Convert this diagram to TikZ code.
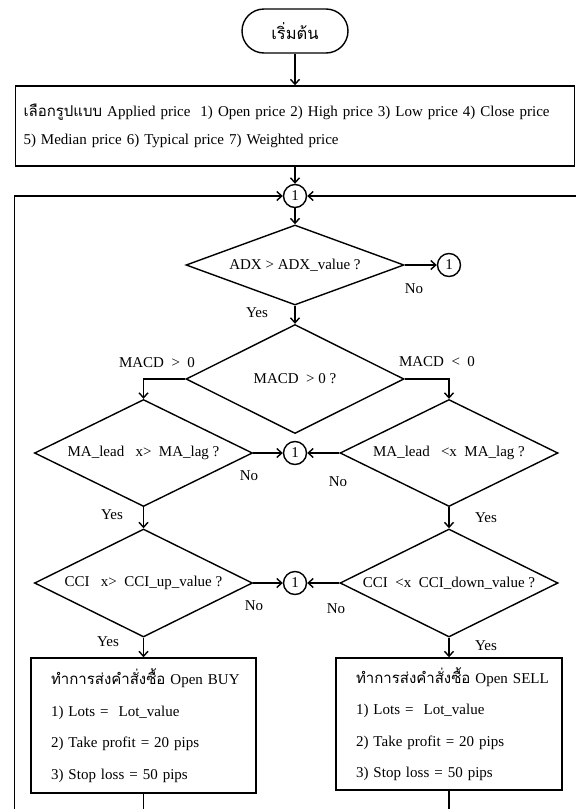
\documentclass[tikz,border=0pt]{standalone}
\usepackage{fontspec}
\setmainfont{Liberation Serif}
\newfontfamily\thaifont[Script=Thai]{Loma}
\usetikzlibrary{shapes.geometric,arrows.meta}
\newcommand{\dtxt}[1]{\makebox[0pt]{#1}}

\begin{document}
\begin{tikzpicture}[x=1pt,y=-1pt,line width=1.4pt,
    font=\fontsize{15}{17}\selectfont,
    arr/.style={-{Straight Barb[length=5pt,width=9pt]}},
    box/.style={draw,rectangle,inner sep=0pt,align=left},
    dia/.style={draw,diamond,inner sep=0pt,minimum width=218pt,minimum height=#1},
    dia/.default=108pt,
    conn/.style={draw,circle,inner sep=0pt,minimum size=23pt},
    lbl/.style={inner sep=0pt}]
\useasboundingbox (0,0) rectangle (576,809);
\node[draw,rectangle,rounded corners=22pt,minimum width=106pt,minimum height=44pt] (start) at (295,31) {{\thaifont\fontsize{16.5}{18}\selectfont เริ่มต้น}};
\node[box,text width=543pt,inner xsep=8pt,minimum height=80pt,font=\fontsize{15}{28}\selectfont] (prm) at (295,126)
    {\mbox{{\thaifont เลือกรูปแบบ} Applied price~ 1) Open price 2) High price 3) Low price 4) Close price}\\
     5) Median price 6) Typical price 7) Weighted price};
\node[conn] (c0) at (295,196) {1};
\node[dia=80pt] (adx) at (295,265) {\dtxt{ADX > ADX\_value ?}};
\node[conn] (cadx) at (449,265) {1};
\node[dia=109pt] (macd) at (295,379) {\dtxt{MACD ~> 0 ?}};
\node[dia=107pt] (malong) at (143.5,453) {\dtxt{MA\_lead ~~x> ~MA\_lag ?}};
\node[dia=107pt] (mashort) at (449,453) {\dtxt{MA\_lead ~~<x ~MA\_lag ?}};
\node[conn] (cma) at (295,453) {1};
\node[dia] (ccilong) at (143.5,583) {\dtxt{CCI ~~x> ~CCI\_up\_value ?}};
\node[dia] (ccishort) at (449,583) {\dtxt{CCI ~<x ~CCI\_down\_value ?}};
\node[conn] (ccc) at (295,583) {1};
\node[box,text width=185pt,inner xsep=20pt,minimum height=135pt,font=\fontsize{15}{31.5}\selectfont] (buy) at (143.5,725.5)
    {\mbox{{\thaifont ทำการส่งคำสั่งซื้อ} Open BUY}\\1) Lots = ~Lot\_value\\2) Take profit = 20 pips\\3) Stop loss = 50 pips};
\node[box,text width=186pt,inner xsep=20pt,minimum height=132pt,font=\fontsize{15}{31.5}\selectfont] (sell) at (449,724)
    {\mbox{{\thaifont ทำการส่งคำสั่งซื้อ} Open SELL}\\1) Lots = ~Lot\_value\\2) Take profit = 20 pips\\3) Stop loss = 50 pips};
\node[lbl] (no1) at (414,289) {No};
\node[lbl] (yes1) at (257,313) {Yes};
\node[lbl] (gt) at (157,363) {MACD ~>~ 0};
\node[lbl] (lt) at (437,362) {MACD ~<~ 0};
\node[lbl] (no2) at (249,476) {No};
\node[lbl] (no3) at (338,482) {No};
\node[lbl] (yes2) at (112,515) {Yes};
\node[lbl] (yes3) at (486,518) {Yes};
\node[lbl] (no4) at (254,606) {No};
\node[lbl] (no5) at (336,609) {No};
\node[lbl] (yes4) at (108,642) {Yes};
\node[lbl] (yes5) at (486,646) {Yes};
\coordinate (buyend) at (143.5,809);
\coordinate (sellend) at (449,809);
\coordinate (loopl) at (14.7,809);
\coordinate (loopr) at (576,196);
\draw[arr] (start) -- (prm);
\draw[arr] (prm) -- (c0);
\draw[arr] (c0) -- (adx.north);
\draw[arr] (adx.east) -- (cadx);
\draw[arr] (adx.south) -- (macd.north);
\draw[arr] (macd.west) -| (malong.north);
\draw[arr] (macd.east) -| (mashort.north);
\draw[arr] (malong.east) -- (cma);
\draw[arr] (mashort.west) -- (cma);
\draw[arr] (malong.south) -- (ccilong.north);
\draw[arr] (mashort.south) -- (ccishort.north);
\draw[arr] (ccilong.east) -- (ccc);
\draw[arr] (ccishort.west) -- (ccc);
\draw[arr] (ccilong.south) -- (buy.north);
\draw[arr] (ccishort.south) -- (sell.north);
\draw (buy) -- (buyend);
\draw (sell) -- (sellend);
\draw[arr] (loopl) |- (c0.west);
\draw[arr] (loopr) -- (c0.east);
\end{tikzpicture}
\end{document}
